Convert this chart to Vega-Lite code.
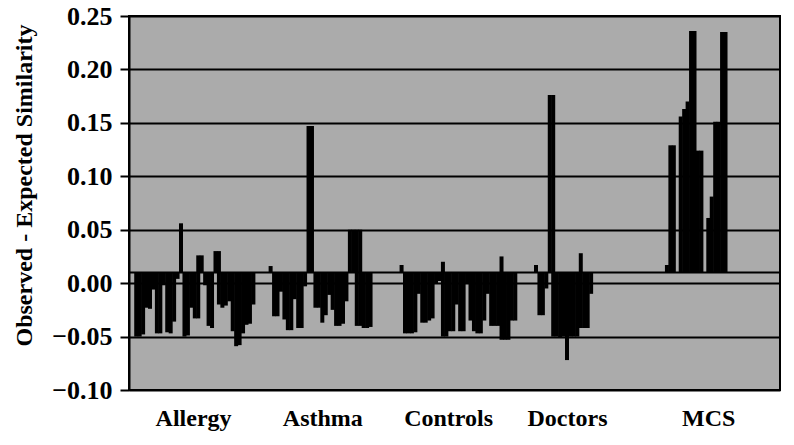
{
  "$schema": "https://vega.github.io/schema/vega-lite/v6.json",
  "width": 651,
  "height": 374,
  "autosize": {"type": "none"},
  "padding": {"left": 129, "top": 16, "right": 14, "bottom": 55},
  "background": "#ffffff",
  "config": {
    "view": {"stroke": "#000000", "strokeWidth": 2, "fill": "#ababab"},
    "font": "Liberation Serif"
  },
  "layer": [
    {
      "data": {"values": [
        {"g": "Allergy", "s": 1, "v": -0.050}, {"g": "Allergy", "s": 2, "v": -0.050}, {"g": "Allergy", "s": 3, "v": -0.048},
        {"g": "Allergy", "s": 4, "v": -0.023}, {"g": "Allergy", "s": 5, "v": -0.024}, {"g": "Allergy", "s": 6, "v": -0.006},
        {"g": "Allergy", "s": 7, "v": -0.047}, {"g": "Allergy", "s": 8, "v": -0.047}, {"g": "Allergy", "s": 9, "v": -0.002},
        {"g": "Allergy", "s": 10, "v": -0.046}, {"g": "Allergy", "s": 11, "v": -0.047}, {"g": "Allergy", "s": 12, "v": -0.036},
        {"g": "Allergy", "s": 13, "v": 0.004}, {"g": "Allergy", "s": 14, "v": 0.056}, {"g": "Allergy", "s": 15, "v": -0.050},
        {"g": "Allergy", "s": 16, "v": -0.049}, {"g": "Allergy", "s": 17, "v": -0.023}, {"g": "Allergy", "s": 18, "v": -0.033},
        {"g": "Allergy", "s": 19, "v": 0.026}, {"g": "Allergy", "s": 19, "v": -0.033}, {"g": "Allergy", "s": 20, "v": 0.026},
        {"g": "Allergy", "s": 21, "v": -0.002}, {"g": "Allergy", "s": 22, "v": -0.040}, {"g": "Allergy", "s": 23, "v": -0.042},
        {"g": "Allergy", "s": 24, "v": 0.030}, {"g": "Allergy", "s": 25, "v": 0.030}, {"g": "Allergy", "s": 25, "v": -0.020},
        {"g": "Allergy", "s": 26, "v": -0.023}, {"g": "Allergy", "s": 27, "v": -0.021}, {"g": "Allergy", "s": 28, "v": -0.017},
        {"g": "Allergy", "s": 29, "v": -0.045}, {"g": "Allergy", "s": 30, "v": -0.059}, {"g": "Allergy", "s": 31, "v": -0.058},
        {"g": "Allergy", "s": 32, "v": -0.047}, {"g": "Allergy", "s": 33, "v": -0.039}, {"g": "Allergy", "s": 34, "v": -0.038},
        {"g": "Allergy", "s": 35, "v": -0.020},
        {"g": "Asthma", "s": 40, "v": 0.016}, {"g": "Asthma", "s": 41, "v": -0.031}, {"g": "Asthma", "s": 42, "v": -0.031},
        {"g": "Asthma", "s": 43, "v": -0.008}, {"g": "Asthma", "s": 44, "v": -0.034}, {"g": "Asthma", "s": 45, "v": -0.044},
        {"g": "Asthma", "s": 46, "v": -0.044}, {"g": "Asthma", "s": 47, "v": -0.015}, {"g": "Asthma", "s": 48, "v": -0.042},
        {"g": "Asthma", "s": 49, "v": -0.042}, {"g": "Asthma", "s": 50, "v": -0.003}, {"g": "Asthma", "s": 51, "v": 0.147},
        {"g": "Asthma", "s": 52, "v": 0.147}, {"g": "Asthma", "s": 53, "v": -0.023}, {"g": "Asthma", "s": 54, "v": -0.023},
        {"g": "Asthma", "s": 55, "v": -0.037}, {"g": "Asthma", "s": 56, "v": -0.030}, {"g": "Asthma", "s": 57, "v": -0.011},
        {"g": "Asthma", "s": 58, "v": -0.025}, {"g": "Asthma", "s": 59, "v": -0.040}, {"g": "Asthma", "s": 60, "v": -0.040},
        {"g": "Asthma", "s": 61, "v": -0.038}, {"g": "Asthma", "s": 62, "v": -0.017}, {"g": "Asthma", "s": 63, "v": 0.050},
        {"g": "Asthma", "s": 64, "v": 0.050}, {"g": "Asthma", "s": 65, "v": 0.050}, {"g": "Asthma", "s": 65, "v": -0.040},
        {"g": "Asthma", "s": 66, "v": 0.050}, {"g": "Asthma", "s": 66, "v": -0.040}, {"g": "Asthma", "s": 67, "v": -0.042},
        {"g": "Asthma", "s": 68, "v": -0.042}, {"g": "Asthma", "s": 69, "v": -0.041},
        {"g": "Controls", "s": 78, "v": 0.017}, {"g": "Controls", "s": 79, "v": -0.047}, {"g": "Controls", "s": 80, "v": -0.047},
        {"g": "Controls", "s": 81, "v": -0.047}, {"g": "Controls", "s": 82, "v": -0.046}, {"g": "Controls", "s": 83, "v": -0.010},
        {"g": "Controls", "s": 84, "v": -0.037}, {"g": "Controls", "s": 85, "v": -0.037}, {"g": "Controls", "s": 86, "v": -0.035},
        {"g": "Controls", "s": 87, "v": -0.033}, {"g": "Controls", "s": 88, "v": 0.000}, {"g": "Controls", "s": 89, "v": 0.002},
        {"g": "Controls", "s": 90, "v": 0.020}, {"g": "Controls", "s": 90, "v": -0.050}, {"g": "Controls", "s": 91, "v": -0.050},
        {"g": "Controls", "s": 92, "v": -0.045}, {"g": "Controls", "s": 93, "v": -0.045}, {"g": "Controls", "s": 94, "v": -0.020},
        {"g": "Controls", "s": 95, "v": -0.045}, {"g": "Controls", "s": 96, "v": -0.045}, {"g": "Controls", "s": 97, "v": 0.000},
        {"g": "Controls", "s": 98, "v": -0.035}, {"g": "Controls", "s": 99, "v": -0.045}, {"g": "Controls", "s": 100, "v": -0.047},
        {"g": "Controls", "s": 101, "v": -0.047}, {"g": "Controls", "s": 102, "v": -0.035}, {"g": "Controls", "s": 103, "v": -0.010},
        {"g": "Controls", "s": 104, "v": -0.040}, {"g": "Controls", "s": 105, "v": -0.040}, {"g": "Controls", "s": 106, "v": -0.040},
        {"g": "Controls", "s": 107, "v": 0.025}, {"g": "Controls", "s": 107, "v": -0.053}, {"g": "Controls", "s": 108, "v": -0.053},
        {"g": "Controls", "s": 109, "v": -0.053}, {"g": "Controls", "s": 110, "v": -0.035}, {"g": "Controls", "s": 111, "v": -0.035},
        {"g": "Doctors", "s": 117, "v": 0.017}, {"g": "Doctors", "s": 118, "v": -0.030}, {"g": "Doctors", "s": 119, "v": -0.030},
        {"g": "Doctors", "s": 120, "v": -0.005}, {"g": "Doctors", "s": 121, "v": 0.176}, {"g": "Doctors", "s": 122, "v": 0.176},
        {"g": "Doctors", "s": 122, "v": -0.050}, {"g": "Doctors", "s": 123, "v": -0.050}, {"g": "Doctors", "s": 124, "v": -0.051},
        {"g": "Doctors", "s": 125, "v": -0.050}, {"g": "Doctors", "s": 126, "v": -0.072}, {"g": "Doctors", "s": 127, "v": -0.050},
        {"g": "Doctors", "s": 128, "v": -0.050}, {"g": "Doctors", "s": 129, "v": -0.050}, {"g": "Doctors", "s": 130, "v": 0.028},
        {"g": "Doctors", "s": 130, "v": -0.042}, {"g": "Doctors", "s": 131, "v": -0.042}, {"g": "Doctors", "s": 132, "v": -0.042},
        {"g": "Doctors", "s": 133, "v": -0.010},
        {"g": "MCS", "s": 155, "v": 0.017}, {"g": "MCS", "s": 156, "v": 0.129}, {"g": "MCS", "s": 157, "v": 0.129},
        {"g": "MCS", "s": 159, "v": 0.156}, {"g": "MCS", "s": 160, "v": 0.163}, {"g": "MCS", "s": 161, "v": 0.170},
        {"g": "MCS", "s": 162, "v": 0.236}, {"g": "MCS", "s": 163, "v": 0.236}, {"g": "MCS", "s": 164, "v": 0.124},
        {"g": "MCS", "s": 165, "v": 0.124}, {"g": "MCS", "s": 167, "v": 0.061}, {"g": "MCS", "s": 168, "v": 0.081},
        {"g": "MCS", "s": 169, "v": 0.151}, {"g": "MCS", "s": 170, "v": 0.151}, {"g": "MCS", "s": 171, "v": 0.235},
        {"g": "MCS", "s": 172, "v": 0.235}
      ]},
      "mark": {"type": "bar", "width": 4, "color": "#000000"},
      "encoding": {
        "x": {
          "field": "s", "type": "quantitative",
          "scale": {"domain": [0.357, 186.357], "nice": false, "zero": false},
          "axis": {
            "values": [17.5, 55, 91.5, 126, 167],
            "labelExpr": "datum.value == 17.5 ? 'Allergy' : datum.value == 55 ? 'Asthma' : datum.value == 91.5 ? 'Controls' : datum.value == 126 ? 'Doctors' : 'MCS'",
            "title": null, "grid": false, "domain": false, "ticks": false,
            "labelFlush": false, "labelOverlap": false,
            "labelFont": "Liberation Serif", "labelFontWeight": 700, "labelFontSize": 24,
            "labelColor": "#000000", "labelPadding": 16
          }
        },
        "y": {
          "field": "v", "type": "quantitative",
          "scale": {"domain": [-0.1, 0.25], "nice": false, "zero": false},
          "axis": {
            "values": [-0.1, -0.05, 0, 0.05, 0.1, 0.15, 0.2, 0.25],
            "format": ".2f",
            "title": "Observed - Expected Similarity",
            "titleFont": "Liberation Serif", "titleFontWeight": 700, "titleFontSize": 24,
            "titleColor": "#000000", "titleX": -105, "titleY": 169, "titleBaseline": "middle",
            "labelFont": "Liberation Serif", "labelFontWeight": 700, "labelFontSize": 26,
            "labelColor": "#000000", "labelPadding": 8,
            "grid": true, "gridColor": "#000000", "gridWidth": 2, "gridOpacity": 1,
            "domainColor": "#000000", "domainWidth": 2,
            "tickColor": "#000000", "tickWidth": 2, "tickSize": 9
          }
        },
        "y2": {"datum": 0.01}
      }
    },
    {
      "data": {"values": [{}]},
      "mark": {"type": "rule", "color": "#000000", "strokeWidth": 2},
      "encoding": {"y": {"datum": 0.01}}
    }
  ]
}
